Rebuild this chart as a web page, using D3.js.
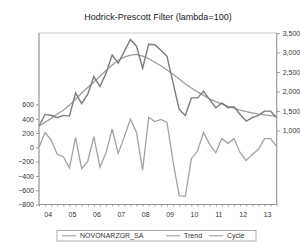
<!DOCTYPE html>
<html><head><meta charset="utf-8">
<script src="https://cdn.jsdelivr.net/npm/d3@7"></script>
<style>body{margin:0;background:#fff}svg{display:block}</style>
</head><body>
<svg id="c" width="300" height="243"></svg>
<script>
const title = "Hodrick-Prescott Filter (lambda=100)";
const yearLabels = ["04","05","06","07","08","09","10","11","12","13"];
const leftTicks = [-800,-600,-400,-200,0,200,400,600];
const rightTicks = [1000,1500,2000,2500,3000,3500];
const seriesNames = ["NOVONARZGR_SA","Trend","Cycle"];
// quarterly 2004Q1..2013Q4
const series = [1114,1411,1390,1327,1386,1368,1962,1690,1930,2383,2129,2470,2934,2723,3030,3332,3162,2596,3213,3200,3060,2900,2220,1538,1385,1835,1835,2003,1792,1582,1708,1582,1607,1411,1241,1327,1386,1495,1495,1327];
const trend = [1114,1210,1310,1420,1520,1650,1800,1960,2100,2240,2390,2540,2680,2800,2880,2935,2950,2910,2840,2750,2660,2550,2440,2320,2200,2090,1990,1900,1810,1740,1680,1620,1570,1520,1480,1450,1420,1400,1380,1360];
const cycle = [0,207,100,-99,-131,-286,137,-300,-193,150,-277,-75,254,-85,150,394,207,-320,420,360,390,350,-200,-676,-686,-159,-52,207,42,-75,122,56,122,-75,-183,-99,-28,122,122,10];

const svg = d3.select("#c");
const L=39, R=276.7, T=33, B=204.5;
const x = d3.scaleLinear().domain([0,series.length-1]).range([L,R]);
const yL = d3.scaleLinear().domain([-800,1600]).range([B,T]);
const yR = d3.scaleLinear().domain([-900,3500]).range([B,T]);
const font = "Liberation Sans, Arial, sans-serif";

svg.append("text").attr("x",158).attr("y",20).attr("text-anchor","middle")
  .attr("font-family",font).attr("font-size",9).attr("fill","#222").text(title);

// frame
svg.append("rect").attr("x",L).attr("y",T).attr("width",R-L).attr("height",B-T)
  .attr("fill","none").attr("stroke","#c8c8c8").attr("stroke-width",1);

const gl = svg.append("g").attr("transform",`translate(${L},0)`)
  .call(d3.axisLeft(yL).tickValues(leftTicks).tickSize(3).tickPadding(2).tickFormat(d3.format(",")));
const gr = svg.append("g").attr("transform",`translate(${R},0)`)
  .call(d3.axisRight(yR).tickValues(rightTicks).tickSize(3).tickPadding(3).tickFormat(d3.format(",")));
const gb = svg.append("g").attr("transform",`translate(0,${B})`)
  .call(d3.axisBottom(x).tickValues(d3.range(series.length)).tickSize(2).tickFormat(""));
[gl,gr,gb].forEach(g=>{
  g.select(".domain").attr("stroke","#999");
  g.selectAll(".tick line").attr("stroke","#999");
  g.selectAll("text").attr("font-family",font).attr("font-size",7).attr("fill","#333");
});
gl.select(".domain").attr("d",`M-0,${T}H0V${B}H-0`);
gr.select(".domain").attr("d",`M0,${T}H0V${B}H0`);
gb.select(".domain").attr("d",`M${L},0H${R}`);

svg.append("g").selectAll("text").data(yearLabels).join("text")
  .attr("x",(d,i)=>x(i*4+1.5)).attr("y",216.5).attr("text-anchor","middle")
  .attr("font-family",font).attr("font-size",7).attr("fill","#333").text(d=>d);

const line = (ys)=>d3.line().x((d,i)=>x(i)).y(d=>ys(d));
svg.append("path").datum(cycle).attr("d",line(yL)).attr("fill","none").attr("stroke","#a2a2a2").attr("stroke-width",1.3);
svg.append("path").datum(trend).attr("d",line(yR)).attr("fill","none").attr("stroke","#9c9c9c").attr("stroke-width",1.3);
svg.append("path").datum(series).attr("d",line(yR)).attr("fill","none").attr("stroke","#7c7c7c").attr("stroke-width",1.4);

// legend
const lg = svg.append("g");
lg.append("rect").attr("x",57).attr("y",230.5).attr("width",199).attr("height",10.5)
  .attr("fill","#fff").attr("stroke","#999").attr("stroke-width",0.8);
const items = [{n:seriesNames[0],lx:62,tx:80},{n:seriesNames[1],lx:166,tx:184},{n:seriesNames[2],lx:209,tx:227}];
items.forEach(it=>{
  lg.append("line").attr("x1",it.lx).attr("x2",it.lx+14).attr("y1",235.8).attr("y2",235.8).attr("stroke","#888").attr("stroke-width",0.9);
  lg.append("text").attr("x",it.tx).attr("y",238.3).attr("font-family",font).attr("font-size",7).attr("fill","#333").text(it.n);
});
</script>
</body></html>
